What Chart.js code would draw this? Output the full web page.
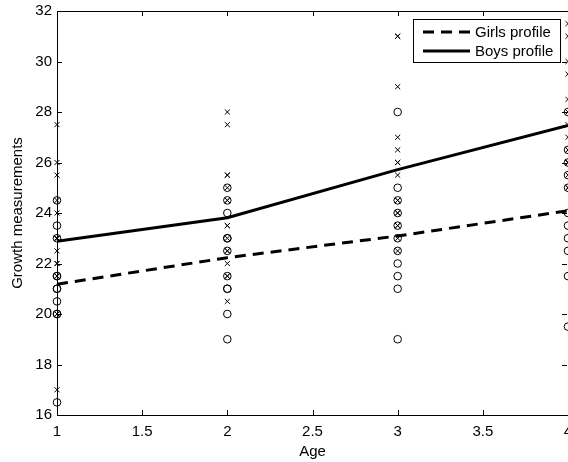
<!DOCTYPE html>
<html>
<head>
<meta charset="utf-8">
<script src="https://cdn.jsdelivr.net/npm/chart.js@4.4.1/dist/chart.umd.min.js"></script>
<style>
  html, body { margin: 0; padding: 0; background: #fff; }
  #wrap { width: 568px; height: 462px; }
</style>
</head>
<body>
<div id="wrap"><canvas id="myChart" width="568" height="462"></canvas></div>
<script>
// ages on the x axis
const ages = [1, 2, 3, 4];

// individual measurements, girls (o) and boys (x), one list per age
const girlsAge1 = [21, 21, 20.5, 23.5, 21.5, 20, 21.5, 23, 20, 16.5, 24.5];
const girlsAge2 = [20, 21.5, 24, 24.5, 23, 21, 22.5, 23, 21, 19, 25];
const girlsAge3 = [21.5, 24, 24.5, 25, 22.5, 21, 23, 23.5, 22, 19, 28];
const girlsAge4 = [23, 25.5, 26, 26.5, 23.5, 22.5, 25, 24, 21.5, 19.5, 28];

const boysAge1 = [26, 21.5, 23, 25.5, 20, 24.5, 22, 24, 23, 27.5, 23, 21.5, 17, 22.5, 23, 22];
const boysAge2 = [25, 22.5, 22.5, 27.5, 23.5, 25.5, 22, 21.5, 20.5, 28, 23, 23.5, 24.5, 25.5, 24.5, 21.5];
const boysAge3 = [29, 23, 24, 26.5, 22.5, 27, 24.5, 24.5, 31, 31, 23.5, 24, 26, 25.5, 26, 23.5];
const boysAge4 = [31, 26.5, 27.5, 27, 26, 28.5, 26.5, 25.5, 26, 31.5, 25, 28, 29.5, 26, 30, 25];

// profile lines
const girlsProfile = [21.18, 22.23, 23.09, 24.09];
const boysProfile = [22.88, 23.81, 25.72, 27.47];

// tick labels
const xTicks = [1, 1.5, 2, 2.5, 3, 3.5, 4];
const yTicks = [16, 18, 20, 22, 24, 26, 28, 30, 32];

const FONT = "'Liberation Sans', Arial, Helvetica, sans-serif";

const toPoints = (lists) => {
  const pts = [];
  lists.forEach((vals, i) => vals.forEach((v) => pts.push({ x: ages[i], y: v })));
  return pts;
};

// matlab style box, inward ticks and framed legend
const matlabFrame = {
  id: "matlabFrame",
  afterDraw(chart) {
    const { ctx, chartArea: a, scales } = chart;
    const tl = 5;
    ctx.save();
    ctx.strokeStyle = "#000";
    ctx.lineWidth = 1;
    ctx.strokeRect(a.left + 0.5, a.top + 0.5, a.right - a.left, a.bottom - a.top);
    ctx.beginPath();
    xTicks.forEach((t) => {
      const px = Math.round(scales.x.getPixelForValue(t)) + 0.5;
      ctx.moveTo(px, a.bottom); ctx.lineTo(px, a.bottom - tl);
      ctx.moveTo(px, a.top); ctx.lineTo(px, a.top + tl);
    });
    yTicks.forEach((t) => {
      const py = Math.round(scales.y.getPixelForValue(t)) + 0.5;
      ctx.moveTo(a.left, py); ctx.lineTo(a.left + tl, py);
      ctx.moveTo(a.right - 1, py); ctx.lineTo(a.right - 1 - tl, py);
    });
    ctx.stroke();

    // legend
    const bx = 413, by = 19, bw = 147, bh = 43;
    ctx.fillStyle = "#fff";
    ctx.fillRect(bx, by, bw, bh);
    ctx.strokeRect(bx + 0.5, by + 0.5, bw, bh);
    const items = chart.data.datasets.filter((d) => d.showLine);
    items.forEach((d, i) => {
      const y = by + 13 + i * 19;
      ctx.beginPath();
      ctx.lineWidth = d.borderWidth;
      ctx.setLineDash(d.borderDash || []);
      ctx.moveTo(bx + 10, y); ctx.lineTo(bx + 57, y);
      ctx.stroke();
      ctx.setLineDash([]);
      ctx.fillStyle = "#000";
      ctx.font = "15px " + FONT;
      ctx.textBaseline = "middle";
      ctx.fillText(d.label, bx + 62, y + 1);
    });
    ctx.restore();
  },
};

const ctx = document.getElementById("myChart").getContext("2d");
const myChart = new Chart(ctx, {
  type: "scatter",
  data: {
    datasets: [
      {
        label: "Girls profile",
        data: ages.map((a, i) => ({ x: a, y: girlsProfile[i] })),
        showLine: true,
        borderColor: "#000",
        borderWidth: 3,
        borderDash: [11, 7],
        pointRadius: 0,
        order: 0,
        clip: false,
      },
      {
        label: "Boys profile",
        data: ages.map((a, i) => ({ x: a, y: boysProfile[i] })),
        showLine: true,
        borderColor: "#000",
        borderWidth: 3,
        pointRadius: 0,
        order: 0,
        clip: false,
      },
      {
        label: "Girls",
        data: toPoints([girlsAge1, girlsAge2, girlsAge3, girlsAge4]),
        pointStyle: "circle",
        pointRadius: 3.8,
        pointBorderWidth: 1,
        pointBorderColor: "#000",
        pointBackgroundColor: "rgba(0,0,0,0)",
        order: 1,
        clip: false,
      },
      {
        label: "Boys",
        data: toPoints([boysAge1, boysAge2, boysAge3, boysAge4]),
        pointStyle: "crossRot",
        pointRadius: 3.6,
        pointBorderWidth: 1,
        pointBorderColor: "#000",
        order: 1,
        clip: false,
      },
    ],
  },
  options: {
    responsive: false,
    animation: false,
    devicePixelRatio: 1,
    layout: { autoPadding: false, padding: { top: 11, right: 0, left: 0, bottom: 0 } },
    plugins: { legend: { display: false }, tooltip: { enabled: false } },
    scales: {
      x: {
        type: "linear",
        min: 1,
        max: 4,
        afterFit: (s) => { s.height = 47; s.paddingLeft = 0; s.paddingRight = 0; },
        afterBuildTicks: (s) => { s.ticks = xTicks.map((v) => ({ value: v })); },
        grid: { display: false, drawTicks: false },
        border: { display: false },
        ticks: { color: "#000", padding: 8, font: { family: FONT, size: 15 }, maxRotation: 0, callback: (v) => String(v) },
        title: { display: true, text: "Age", color: "#000", font: { family: FONT, size: 15 }, padding: { top: 0, bottom: 1 } },
      },
      y: {
        min: 16,
        max: 32,
        afterFit: (s) => { s.width = 57; s.paddingTop = 0; s.paddingBottom = 0; },
        afterBuildTicks: (s) => { s.ticks = yTicks.map((v) => ({ value: v })); },
        grid: { display: false, drawTicks: false },
        border: { display: false },
        ticks: { color: "#000", padding: 5, font: { family: FONT, size: 15 }, callback: (v) => String(v) },
        title: { display: true, text: "Growth measurements", color: "#000", font: { family: FONT, size: 15 }, padding: { top: 9, bottom: 0 } },
      },
    },
  },
  plugins: [matlabFrame],
});
</script>
</body>
</html>
